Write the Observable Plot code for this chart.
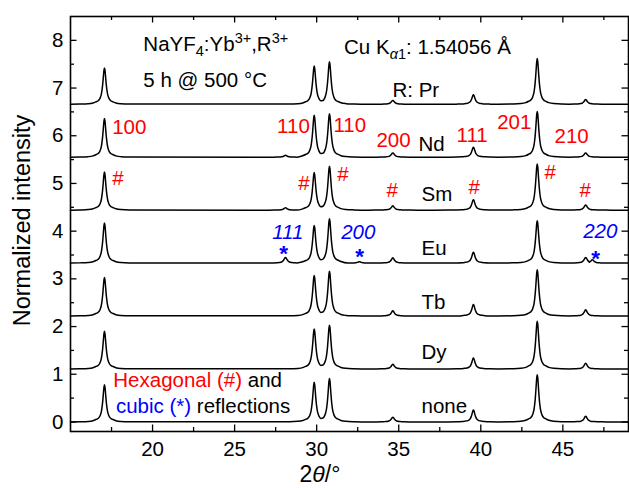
<!DOCTYPE html>
<html><head><meta charset="utf-8">
<script src="https://cdn.jsdelivr.net/npm/d3@7"></script>
<script src="https://cdn.jsdelivr.net/npm/@observablehq/plot@0.6"></script>
<style>body{margin:0;background:#fff}</style>
</head><body><div id="chart"></div>
<script>
// ---- data ----
const samples = ["none", "Dy", "Tb", "Eu", "Sm", "Nd", "Pr"];
const sampleLabels = ["none", "Dy", "Tb", "Eu", "Sm", "Nd", "R: Pr"];
const sampleOffsets = [0, 1.11, 2.22, 3.33, 4.44, 5.55, 6.66];
const sampleLabelX = [36.39, 36.39, 36.39, 36.39, 36.39, 36.20, 34.62];
const sampleLabelY = [0.18, 1.33, 2.36, 3.51, 4.64, 5.69, 6.81];

// hexagonal (beta) reflections
const hexPos = [17.07, 29.85, 30.78, 34.64, 39.55, 43.44, 46.39];
const hexHkl = ["100", "110", "110", "200", "111", "201", "210"];
const hexHklX = [17.54, 27.59, 31.02, 33.64, 38.52, 41.0, 44.49];
const hexHklY = [6.04, 6.05, 6.08, 5.76, 5.87, 6.15, 5.85];
const hashX = [17.54, 28.87, 31.25, 34.25, 39.25, 43.88, 46.01];
const hashY = [4.96, 4.87, 5.06, 4.71, 4.78, 5.10, 4.71];

// cubic (alpha) reflections
const cubicPos = [28.1, 32.6, 46.8];
const cubicHkl = ["111", "200", "220"];
const cubicHklX = [27.29, 31.49, 46.24];
const cubicHklY = [3.84, 3.84, 3.85];
const starX = [27.98, 32.61, 46.99];
const starY = [3.38, 3.32, 3.28];

// peak heights above each baseline (hexagonal peaks, in hexPos order)
const hexNone = [0.78, 0.83, 0.91, 0.10, 0.25, 0.99, 0.12];
const hexDy   = [0.79, 0.84, 0.92, 0.10, 0.23, 1.00, 0.12];
const hexTb   = [0.81, 0.85, 0.94, 0.11, 0.24, 0.97, 0.13];
const hexEu   = [0.84, 0.79, 0.93, 0.11, 0.23, 0.89, 0.12];
const hexSm   = [0.80, 0.79, 0.92, 0.09, 0.22, 0.97, 0.11];
const hexNd   = [0.81, 0.88, 0.91, 0.09, 0.21, 0.96, 0.09];
const hexPr   = [0.76, 0.80, 0.89, 0.08, 0.20, 0.96, 0.10];
// cubic peak heights (cubicPos order)
const cubNone = [0, 0, 0];
const cubDy   = [0, 0, 0];
const cubTb   = [0, 0, 0];
const cubEu   = [0.12, 0.03, 0.07];
const cubSm   = [0.05, 0, 0];
const cubNd   = [0.04, 0, 0];
const cubPr   = [0, 0, 0];

// peak profile (offset in degrees, fraction of peak height)
const profileOffset = [0, 0.03, 0.06, 0.09, 0.12, 0.16, 0.2, 0.25, 0.3, 0.4, 0.5, 0.7, 1.0, 1.5];
const profileFrac   = [1, 0.94, 0.80, 0.64, 0.50, 0.36, 0.26, 0.19, 0.14, 0.09, 0.07, 0.035, 0.015, 0.006];

const xTicks = [20, 25, 30, 35, 40, 45];
const xMinor = [17.5, 22.5, 27.5, 32.5, 37.5, 42.5, 47.5];
const yTicks = [0, 1, 2, 3, 4, 5, 6, 7, 8];
const yMinor = [0.5, 1.5, 2.5, 3.5, 4.5, 5.5, 6.5, 7.5];
const xDomain = [15, 49];
const yDomain = [-0.2, 8.5];

// ---- build traces ----
const hexHeights = [hexNone, hexDy, hexTb, hexEu, hexSm, hexNd, hexPr];
const cubHeights = [cubNone, cubDy, cubTb, cubEu, cubSm, cubNd, cubPr];
const pts = [];
samples.forEach((s, k) => {
  const base = sampleOffsets[k];
  const peaks = [];
  hexPos.forEach((p, i) => peaks.push([p, hexHeights[k][i]]));
  cubicPos.forEach((p, i) => { if (cubHeights[k][i] > 0) peaks.push([p, cubHeights[k][i]]); });
  const row = [{x: xDomain[0], y: base}, {x: xDomain[1], y: base}];
  peaks.forEach(([p, h], i) => {
    profileOffset.forEach((d, j) => {
      for (const sg of (d === 0 ? [1] : [-1, 1])) {
        const x = p + sg * d;
        if (peaks.some(([q], m) => m !== i && Math.abs(x - q) <= d)) continue;
        row.push({x, y: base + h * profileFrac[j]});
      }
    });
  });
  row.sort((a, b) => a.x - b.x);
  row.forEach(r => pts.push({x: r.x, y: r.y, sample: s}));
});

// ---- layout ----
const W = 629, H = 488, mL = 70, mR = 1, mT = 16, mB = 57;
const fw = W - mL - mR, fh = H - mT - mB;
const FS = 20.5;
const RED = "#ff0000", BLUE = "#0000ff";

const chart = Plot.plot({
  width: W, height: H,
  marginLeft: mL, marginRight: mR, marginTop: mT, marginBottom: mB,
  style: {fontFamily: "'Liberation Sans', Arial, Helvetica, sans-serif", fontSize: FS + "px", background: "white", color: "black", overflow: "visible"},
  x: {domain: xDomain},
  y: {domain: yDomain},
  marks: [
    Plot.line(pts, {x: "x", y: "y", z: "sample", stroke: "black", strokeWidth: 1.5, curve: "monotone-x"}),
    // inward ticks, bottom/top/left/right
    Plot.ruleX(xTicks, {x: d => d, insetTop: fh - 6.5, stroke: "black", strokeWidth: 1.3}),
    Plot.ruleX(xMinor, {x: d => d, insetTop: fh - 4, stroke: "black", strokeWidth: 1.3}),
    Plot.ruleX(xTicks, {x: d => d, insetBottom: fh - 6.5, stroke: "black", strokeWidth: 1.3}),
    Plot.ruleX(xMinor, {x: d => d, insetBottom: fh - 4, stroke: "black", strokeWidth: 1.3}),
    Plot.ruleY(yTicks, {y: d => d, insetRight: fw - 6.5, stroke: "black", strokeWidth: 1.3}),
    Plot.ruleY(yMinor, {y: d => d, insetRight: fw - 4, stroke: "black", strokeWidth: 1.3}),
    Plot.ruleY(yTicks, {y: d => d, insetLeft: fw - 6.5, stroke: "black", strokeWidth: 1.3}),
    Plot.ruleY(yMinor, {y: d => d, insetLeft: fw - 4, stroke: "black", strokeWidth: 1.3}),
    Plot.axisX(xTicks, {tickSize: 0, tickPadding: 10, fontSize: FS, label: null}),
    Plot.axisY(yTicks, {tickSize: 0, tickPadding: 7, fontSize: FS, label: null}),
    Plot.frame({stroke: "black", strokeWidth: 1.6}),
    // sample labels
    Plot.text(sampleLabels, {x: sampleLabelX, y: sampleLabelY, text: d => d, textAnchor: "start", lineAnchor: "bottom", fontSize: FS, fill: "black"}),
    // hexagonal hkl labels and # markers
    Plot.text(hexHkl, {x: hexHklX, y: hexHklY, text: d => d, textAnchor: "start", lineAnchor: "bottom", fontSize: FS, fill: RED}),
    Plot.text(hexPos, {x: hashX, y: hashY, text: () => "#", textAnchor: "start", lineAnchor: "bottom", fontSize: FS, fill: RED}),
    // cubic hkl labels and * markers
    Plot.text(cubicHkl, {x: cubicHklX, y: cubicHklY, text: d => d, textAnchor: "start", lineAnchor: "bottom", fontSize: FS, fill: BLUE, fontStyle: "italic"}),
    Plot.text(cubicPos, {x: starX, y: starY, text: () => "*", textAnchor: "middle", lineAnchor: "bottom", fontSize: FS + 2, fill: BLUE, fontWeight: "bold"})
  ]
});
document.getElementById("chart").append(chart);

// ---- rich-text annotations (sub/superscripts, mixed colours) ----
const sx = chart.scale("x"), sy = chart.scale("y");
const svg = d3.select(chart);
function rich(px, py, parts, size, anchor) {
  const t = svg.append("text").attr("x", px).attr("y", py)
    .attr("font-size", size).attr("fill", "black").attr("text-anchor", anchor || "start");
  parts.forEach(p => {
    const ts = t.append("tspan").text(p.t);
    if (p.fill) ts.attr("fill", p.fill);
    if (p.it) ts.attr("font-style", "italic");
    if (p.dy) ts.attr("dy", p.dy);
    if (p.fs) ts.attr("font-size", p.fs);
  });
  return t;
}
const SUB = 14.5;
rich(sx.apply(19.47), sy.apply(7.77), [
  {t: "NaYF"}, {t: "4", fs: SUB, dy: 5}, {t: ":Yb", dy: -5}, {t: "3+", fs: SUB, dy: -8},
  {t: ",R", dy: 8}, {t: "3+", fs: SUB, dy: -8}
], FS);
rich(sx.apply(19.47), sy.apply(7.01), [{t: "5 h @ 500 °C"}], FS);
rich(sx.apply(31.70), sy.apply(7.70), [
  {t: "Cu K"}, {t: "α", fs: SUB, dy: 5, it: true}, {t: "1", fs: SUB}, {t: ": 1.54056 Å", dy: -5}
], FS);
rich(sx.apply(17.64), sy.apply(0.72), [{t: "Hexagonal (#)", fill: RED}, {t: " and"}], FS);
rich(sx.apply(17.80), sy.apply(0.18), [{t: "cubic (*)", fill: BLUE}, {t: " reflections"}], FS);
// axis titles
rich(sx.apply(30.23), H - 6, [{t: "2"}, {t: "θ", it: true}, {t: "/°"}], 23, "middle");
svg.append("text").attr("transform", `translate(30,${(mT + H - mB) / 2 - 3})rotate(-90)`)
  .attr("text-anchor", "middle").attr("font-size", 23.5).attr("fill", "black")
  .text("Normalized intensity");
</script>
</body></html>
